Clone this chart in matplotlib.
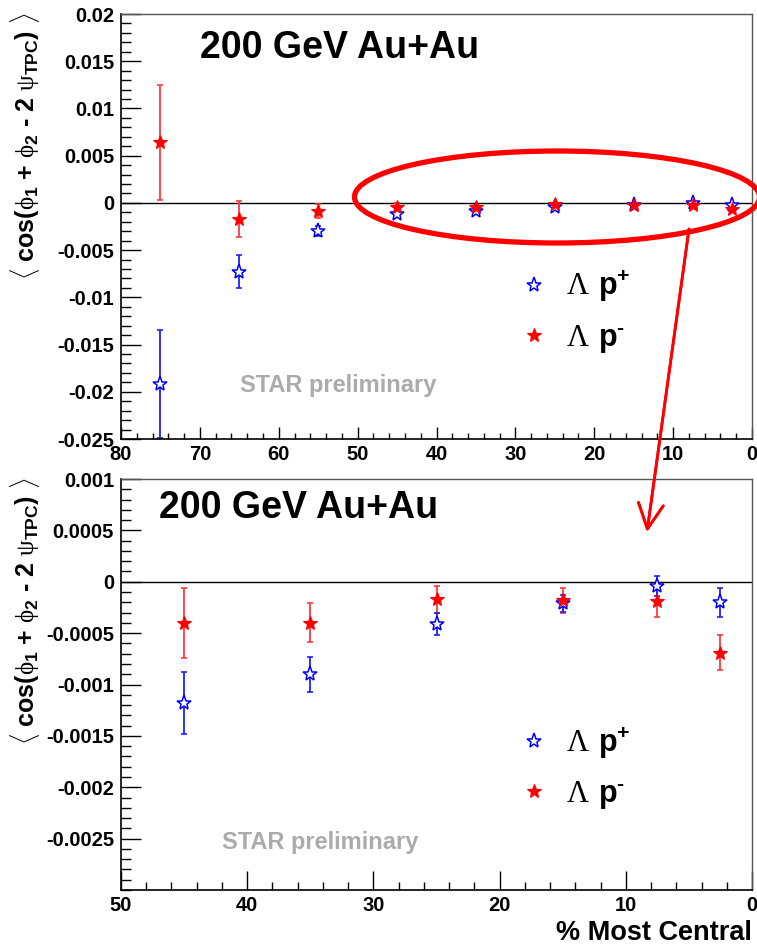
import matplotlib
matplotlib.use("Agg")
import matplotlib.pyplot as plt
from matplotlib.patches import Ellipse
from matplotlib.ticker import MultipleLocator, FixedLocator, FuncFormatter

plt.rcParams['font.family'] = ['Liberation Sans', 'DejaVu Sans']
plt.rcParams['mathtext.fontset'] = 'custom'
plt.rcParams['mathtext.rm'] = 'Liberation Serif'
plt.rcParams['mathtext.bf'] = 'Liberation Sans:bold'
plt.rcParams['mathtext.default'] = 'bf'

# centrality bin centres (% most central)
centrality = [75, 65, 55, 45, 35, 25, 15, 7.5, 2.5]

# <cos(phi1 + phi2 - 2 psi_TPC)> for Lambda-p+ and Lambda-p-
lam_pplus = [-0.0192, -0.00727, -0.00296, -0.00118, -0.00090, -0.00041, -0.00021, -0.00004, -0.00020]
lam_pplus_err = [0.0057, 0.0017, 0.0005, 0.00030, 0.00017, 0.00011, 0.00008, 0.00010, 0.00014]
lam_pminus = [0.00643, -0.00173, -0.00085, -0.00040, -0.00040, -0.00017, -0.00018, -0.00019, -0.00069]
lam_pminus_err = [0.0061, 0.0019, 0.0007, 0.00034, 0.00019, 0.00013, 0.00012, 0.00015, 0.00017]

label_pplus = r'$\mathrm{\Lambda}\ \mathbf{p}^{\mathbf{+}}$'
label_pminus = r'$\mathrm{\Lambda}\ \mathbf{p}^{\mathbf{' + '\u2010' + r'}}$'
ylabel = (r'$\langle$ cos(' + r'$\mathrm{\phi}_{\mathbf{1}}$' + ' + ' + r'$\mathrm{\phi}_{\mathbf{2}}$'
          + ' - 2 ' + r'$\mathrm{\psi}_{\mathbf{TPC}}$' + r') $\rangle$')

W, H = 757, 946
fig = plt.figure(figsize=(W / 100, H / 100), dpi=100)
fig.patch.set_facecolor('white')


def px_axes(left, top, right, bottom):
    return fig.add_axes([left / W, 1 - bottom / H, (right - left) / W, (bottom - top) / H])


def fmt(v, pos):
    return '0' if abs(v) < 1e-12 else '%g' % v


def panel(ax, xlim, ylim, yticks, yminor, xminor, xlen, ylen, leg_top):
    ax.set_xlim(*xlim)
    ax.set_ylim(*ylim)
    ax.axhline(0, color='black', lw=1.0, zorder=1)

    ax.errorbar(centrality, lam_pminus, yerr=lam_pminus_err, fmt='none',
                ecolor='#ff3a3a', elinewidth=1.3, capsize=2.2, capthick=1.2, zorder=2)
    ax.errorbar(centrality, lam_pplus, yerr=lam_pplus_err, fmt='none',
                ecolor='#2020ff', elinewidth=1.3, capsize=2.2, capthick=1.2, zorder=2)
    hp, = ax.plot(centrality, lam_pplus, ls='none', marker='*', ms=11,
                  mfc='white', mec='#0000ff', mew=1.1, label=label_pplus, zorder=3)
    hm, = ax.plot(centrality, lam_pminus, ls='none', marker='*', ms=10,
                  mfc='#ff0000', mec='#ff0000', mew=0.8, label=label_pminus, zorder=4)

    ax.yaxis.set_major_locator(FixedLocator(yticks))
    ax.yaxis.set_minor_locator(MultipleLocator(yminor))
    ax.xaxis.set_major_locator(MultipleLocator(10))
    ax.xaxis.set_minor_locator(MultipleLocator(xminor))
    ax.yaxis.set_major_formatter(FuncFormatter(fmt))
    ax.xaxis.set_major_formatter(FuncFormatter(fmt))
    ax.tick_params(axis='both', which='both', direction='in', top=False, right=False,
                   labelsize=14.5, width=1.0, color='black')
    ax.tick_params(axis='x', which='major', length=xlen[0], pad=4)
    ax.tick_params(axis='x', which='minor', length=xlen[1])
    ax.tick_params(axis='y', which='major', length=ylen[0], pad=5)
    ax.tick_params(axis='y', which='minor', length=ylen[1])
    for lab in ax.get_xticklabels() + ax.get_yticklabels():
        lab.set_fontweight('bold')
    for side in ['left', 'bottom']:
        ax.spines[side].set_linewidth(1.2)
    for side in ['top', 'right']:
        ax.spines[side].set_linewidth(1.0)
        ax.spines[side].set_color('#555555')

    ax.legend(handles=[hp, hm], loc='upper left', frameon=False, fontsize=22,
              bbox_to_anchor=(519 / W, 1 - leg_top / H), bbox_transform=fig.transFigure,
              borderpad=0, borderaxespad=0, handlelength=1.0, handletextpad=0.55,
              labelspacing=0.6)


# top panel: full centrality range
ax1 = px_axes(121, 14, 752, 439)
panel(ax1, (80, 0), (-0.025, 0.02), [0.02 - 0.005 * i for i in range(10)],
      0.001, 2, (8.6, 4.3), (14.4, 7.2), 269)
fig.text(200 / W, 1 - 48 / H, '200 GeV Au+Au', fontsize=27, fontweight='bold',
         va='center', ha='left')
fig.text(240 / W, 1 - 385 / H, 'STAR preliminary', fontsize=17, fontweight='bold',
         color='#ababab', va='center', ha='left')
fig.text(25 / W, 1 - 12 / H, ylabel, rotation=90, fontsize=18, fontweight='bold',
         ha='center', va='top')

# bottom panel: zoom on 0-50%
ax2 = px_axes(121, 479, 752, 890)
panel(ax2, (50, 0), (-0.003, 0.001), [0.001 - 0.0005 * i for i in range(8)],
      0.0001, 2, (13.7, 5.8), (14.4, 7.2), 725)
fig.text(159 / W, 1 - 508 / H, '200 GeV Au+Au', fontsize=27, fontweight='bold',
         va='center', ha='left')
fig.text(222 / W, 1 - 842 / H, 'STAR preliminary', fontsize=17, fontweight='bold',
         color='#ababab', va='center', ha='left')
fig.text(25 / W, 1 - 477 / H, ylabel, rotation=90, fontsize=18, fontweight='bold',
         ha='center', va='top')
fig.text(752 / W, 1 - 933 / H, '% Most Central', fontsize=19.5, fontweight='bold',
         ha='right', va='center')

# highlight of the central bins and pointer to the zoomed panel
fig.add_artist(Ellipse((557 / W, 1 - 197 / H), 405 / W, 92 / H, transform=fig.transFigure,
                       fill=False, ec='#ff0000', lw=3.8, zorder=10))
fig.add_artist(plt.annotate('', xy=(647, H - 532), xytext=(689, H - 229),
                            xycoords='figure pixels', textcoords='figure pixels',
                            arrowprops=dict(arrowstyle='->,head_length=0.9,head_width=0.45',
                                            color='#ff0000', lw=2, mutation_scale=20,
                                            shrinkA=0, shrinkB=0)))

fig.savefig('out.png', dpi=100, facecolor='white')
